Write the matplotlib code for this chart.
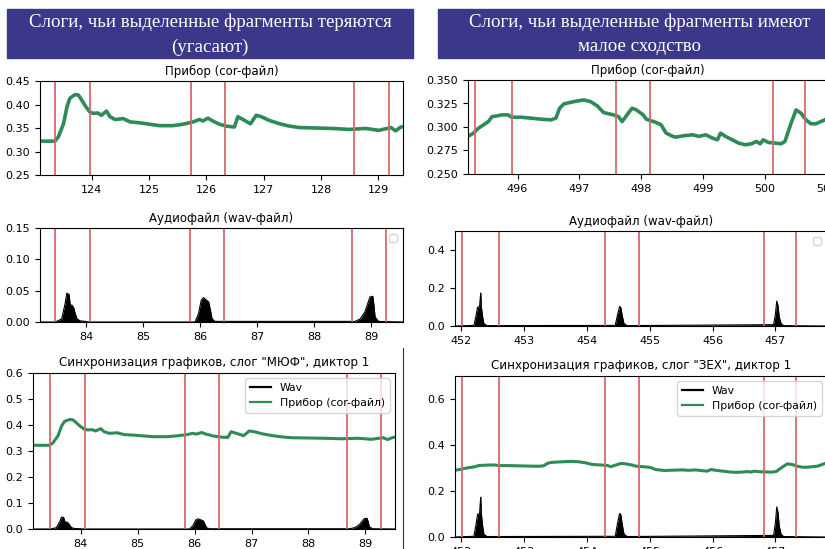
import matplotlib
matplotlib.use("Agg")
import matplotlib.pyplot as plt
from matplotlib.patches import Rectangle
from matplotlib.lines import Line2D

# ---------------- data ----------------
# left set: syllable "МЮФ"
corL_t = [123.05, 123.10, 123.36, 123.42, 123.51, 123.57, 123.62, 123.65, 123.71, 123.77, 123.83, 123.90, 123.97,
          124.03, 124.11, 124.17, 124.26, 124.32, 124.41, 124.55, 124.67, 124.84, 125.01,
          125.19, 125.42, 125.59, 125.77, 125.88, 125.94, 126.03, 126.11, 126.23, 126.35,
          126.49, 126.55, 126.67, 126.77, 126.87, 126.96, 127.10, 127.28, 127.45, 127.62,
          127.91, 128.20, 128.49, 128.78, 129.01, 129.22, 129.30, 129.39, 129.45]
corL_v = [0.322, 0.322, 0.322, 0.331, 0.359, 0.395, 0.413, 0.416, 0.421, 0.420, 0.409, 0.395, 0.384,
          0.381, 0.382, 0.377, 0.386, 0.374, 0.368, 0.370, 0.363, 0.361, 0.358,
          0.355, 0.355, 0.358, 0.363, 0.368, 0.365, 0.371, 0.365, 0.358, 0.354,
          0.352, 0.374, 0.366, 0.359, 0.377, 0.374, 0.366, 0.359, 0.354, 0.351,
          0.350, 0.349, 0.347, 0.349, 0.345, 0.351, 0.344, 0.352, 0.353]
wavL_t = [83.16, 83.46, 83.57, 83.63, 83.66, 83.70, 83.72, 83.75, 83.78, 83.81, 83.84, 83.89, 84.07,
          85.91, 85.97, 86.02, 86.06, 86.11, 86.15, 86.18, 86.21, 86.26,
          88.72, 88.81, 88.89, 88.95, 88.98, 89.03, 89.05, 89.07, 89.13, 89.56]
wavL_v = [0.0, 0.0, 0.005, 0.029, 0.046, 0.044, 0.027, 0.027, 0.023, 0.013, 0.005, 0.002, 0.0,
          0.0, 0.013, 0.035, 0.039, 0.035, 0.032, 0.019, 0.005, 0.001,
          0.001, 0.005, 0.016, 0.032, 0.040, 0.041, 0.027, 0.008, 0.001, 0.0]
redL = [83.46, 84.07, 85.83, 86.42, 88.67, 89.27]
offsetL = 39.91

# right set: syllable "ЗЕХ"
corR_t = [495.20, 495.29, 495.37, 495.45, 495.53, 495.59, 495.67, 495.74, 495.85, 495.90,
          496.06, 496.22, 496.38, 496.54, 496.62, 496.68, 496.75, 496.91,
          497.07, 497.18, 497.29, 497.39, 497.55, 497.63, 497.69, 497.77, 497.85, 497.92,
          498.03, 498.08, 498.24, 498.32, 498.40, 498.51, 498.56, 498.67, 498.83, 498.93,
          499.04, 499.15, 499.23, 499.28, 499.36, 499.47, 499.57, 499.68, 499.78, 499.86, 499.92, 499.97,
          500.05, 500.16, 500.26, 500.32, 500.42, 500.50, 500.58, 500.66, 500.74, 500.82, 500.90,
          500.98, 501.05, 501.12]
corR_v = [0.2900, 0.2935, 0.2988, 0.3023, 0.3058, 0.3111, 0.3118, 0.3129, 0.3129, 0.3104,
          0.3104, 0.3094, 0.3083, 0.3076, 0.3094, 0.3200, 0.3246, 0.3270,
          0.3288, 0.3270, 0.3224, 0.3154, 0.3129, 0.3111, 0.3058, 0.3129, 0.3200, 0.3182,
          0.3129, 0.3083, 0.3048, 0.3023, 0.2935, 0.2900, 0.2892, 0.2906, 0.2917, 0.2900,
          0.2917, 0.2882, 0.2864, 0.2935, 0.2900, 0.2864, 0.2829, 0.2811, 0.2822, 0.2846, 0.2822, 0.2864,
          0.2836, 0.2829, 0.2822, 0.2846, 0.3041, 0.3182, 0.3147, 0.3076, 0.3034, 0.3034, 0.3058,
          0.308, 0.315, 0.322]
wavR_t = [451.9, 452.20, 452.23, 452.26, 452.29, 452.30, 452.31, 452.32, 452.34, 452.36, 452.41,
          454.45, 454.49, 454.52, 454.54, 454.56, 454.59, 454.64,
          456.97, 457.00, 457.02, 457.04, 457.06, 457.09, 457.13, 457.8]
wavR_v = [0.0, 0.003, 0.047, 0.10, 0.10, 0.14, 0.173, 0.10, 0.047, 0.012, 0.002,
          0.003, 0.065, 0.103, 0.096, 0.056, 0.012, 0.002,
          0.007, 0.065, 0.131, 0.108, 0.047, 0.012, 0.002, 0.0]
redR = [452.01, 452.60, 454.28, 454.83, 456.82, 457.33]
offsetR = 43.31

head_left = ["Слоги, чьи выделенные фрагменты теряются", "(угасают)"]
head_right = ["Слоги, чьи выделенные фрагменты имеют", "малое сходство"]
title_cor = "Прибор (cor-файл)"
title_wav = "Аудиофайл (wav-файл)"
title_syncL = 'Синхронизация графиков, слог "МЮФ", диктор 1'
title_syncR = 'Синхронизация графиков, слог "ЗЕХ", диктор 1'
lab_wav = "Wav"
lab_cor = "Прибор (cor-файл)"

GREEN = "#2e8b57"
RED = "#d9686a"
HEAD = "#3b3889"
W, H = 825, 549

fig = plt.figure(figsize=(8.25, 5.49), dpi=100)


def box(x0, y0, x1, y1):
    return [x0 / W, 1 - y1 / H, (x1 - x0) / W, (y1 - y0) / H]


def style(ax):
    ax.tick_params(labelsize=8, length=3.5, width=0.8)
    for s in ax.spines.values():
        s.set_linewidth(0.8)


def reds(ax, xs):
    for x in xs:
        ax.axvline(x, color=RED, lw=1.3)


# header boxes
for (x0, x1, lines, cx) in [(7, 413, head_left, 210), (438, 830, head_right, 640)]:
    fig.add_artist(Rectangle((x0 / W, 1 - 58 / H), (x1 - x0) / W, 49 / H,
                             transform=fig.transFigure, color=HEAD, zorder=0))
    for line, y in zip(lines, [22, 47]):
        fig.text(cx / W, 1 - y / H, line, ha="center", va="center", color="white",
                 family="Liberation Serif", fontsize=13.6)

# separator line
fig.add_artist(Line2D([402.5 / W, 402.5 / W], [0, 1 - 348 / H], color="#333333", lw=0.8,
                      transform=fig.transFigure))

# ---- left cor ----
ax = fig.add_axes(box(40, 81, 403, 175))
ax.plot(corL_t, corL_v, color=GREEN, lw=2.6)
reds(ax, [r + offsetL for r in redL])
ax.set_xlim(123.10, 129.43)
ax.set_ylim(0.25, 0.45)
ax.set_yticks([0.25, 0.30, 0.35, 0.40, 0.45])
ax.set_yticklabels([f"{v:.2f}" for v in [0.25, 0.30, 0.35, 0.40, 0.45]])
ax.set_xticks([124, 125, 126, 127, 128, 129])
ax.set_title(title_cor, fontsize=8.5, pad=4)
style(ax)

# ---- left wav ----
ax = fig.add_axes(box(40, 228, 403, 322))
ax.fill_between(wavL_t, wavL_v, 0, color="black", lw=0)
ax.plot(wavL_t, wavL_v, color="black", lw=0.8)
reds(ax, redL)
ax.set_xlim(83.19, 89.56)
ax.set_ylim(0, 0.15)
ax.set_yticks([0.0, 0.05, 0.10, 0.15])
ax.set_yticklabels(["0.00", "0.05", "0.10", "0.15"])
ax.set_xticks([84, 85, 86, 87, 88, 89])
ax.set_title(title_wav, fontsize=8.5, pad=4)
ax.legend(handles=[], loc="upper right", fontsize=8)
style(ax)

# ---- left sync ----
ax = fig.add_axes(box(33, 373, 395, 529))
ax.fill_between(wavL_t, wavL_v, 0, color="black", lw=0)
ax.plot(wavL_t, wavL_v, color="black", lw=0.8, label=lab_wav)
ax.plot([t - offsetL for t in corL_t], corL_v, color=GREEN, lw=2.2, label=lab_cor)
reds(ax, redL)
ax.set_xlim(83.16, 89.52)
ax.set_ylim(0, 0.6)
ax.set_yticks([0.0, 0.1, 0.2, 0.3, 0.4, 0.5, 0.6])
ax.set_xticks([84, 85, 86, 87, 88, 89])
ax.set_title(title_syncL, fontsize=8.6, pad=5)
leg = ax.legend(loc="upper right", fontsize=7.8)
for h in leg.get_lines():
    h.set_linewidth(1.6)
style(ax)

# ---- right cor ----
ax = fig.add_axes(box(468, 80, 827, 174))
ax.plot(corR_t, corR_v, color=GREEN, lw=2.6)
reds(ax, [r + offsetR for r in redR])
ax.set_xlim(495.20, 500.93)
ax.set_ylim(0.25, 0.35)
ax.set_yticks([0.25, 0.275, 0.30, 0.325, 0.35])
ax.set_yticklabels([f"{v:.3f}" for v in [0.25, 0.275, 0.30, 0.325, 0.35]])
ax.set_xticks([496, 497, 498, 499, 500, 501])
ax.set_title(title_cor, fontsize=8.5, pad=4)
style(ax)

# ---- right wav ----
ax = fig.add_axes(box(455, 231, 827, 326))
ax.fill_between(wavR_t, wavR_v, 0, color="black", lw=0)
ax.plot(wavR_t, wavR_v, color="black", lw=0.8)
reds(ax, redR)
ax.set_xlim(451.9, 457.82)
ax.set_ylim(0, 0.5)
ax.set_yticks([0.0, 0.2, 0.4])
ax.set_xticks([452, 453, 454, 455, 456, 457])
ax.set_title(title_wav, fontsize=8.5, pad=4)
ax.legend(handles=[], loc="upper right", fontsize=8)
style(ax)

# ---- right sync ----
ax = fig.add_axes(box(455, 376, 827, 537))
ax.fill_between(wavR_t, wavR_v, 0, color="black", lw=0)
ax.plot(wavR_t, wavR_v, color="black", lw=0.8, label=lab_wav)
ax.plot([t - offsetR for t in corR_t], corR_v, color=GREEN, lw=2.2, label=lab_cor)
reds(ax, redR)
ax.set_xlim(451.9, 457.82)
ax.set_ylim(0, 0.7)
ax.set_yticks([0.0, 0.2, 0.4, 0.6])
ax.set_xticks([452, 453, 454, 455, 456, 457])
ax.set_title(title_syncR, fontsize=8.6, pad=5)
leg = ax.legend(loc="upper right", fontsize=7.8)
for h in leg.get_lines():
    h.set_linewidth(1.6)
style(ax)

fig.savefig("out.png", dpi=100)
